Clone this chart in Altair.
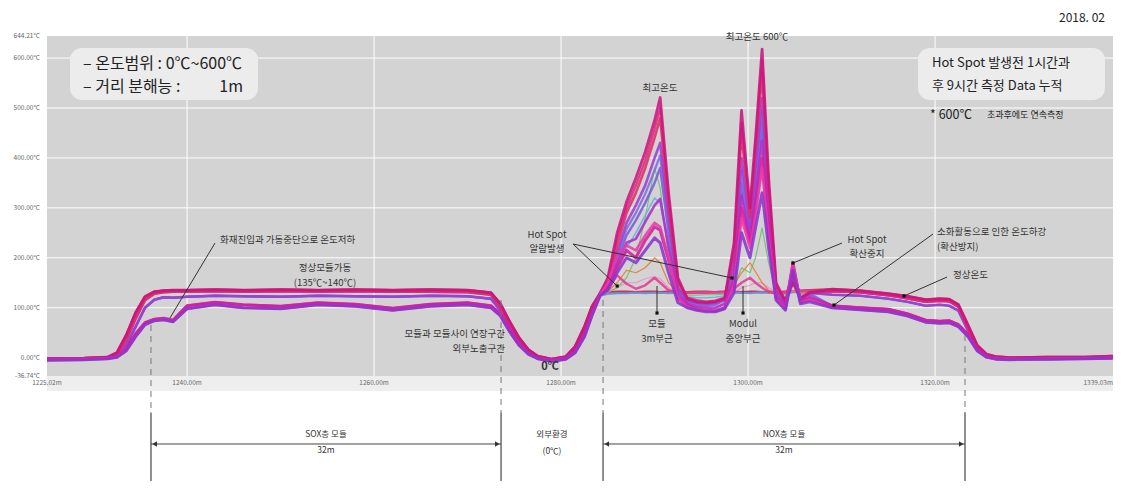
import altair as alt
import pandas as pd

# ---------------- scale / layout constants ----------------
X_MIN, X_MAX = 1225.02, 1339.03
Y_TOP, Y_PLOT_BOTTOM = 644.21, -36.74
PLOT_W = 1066
PLOT_PX_H = 340          # pixel height of the grey measurement panel
TOTAL_H = 445            # panel + annotation strip below it
Y_MIN = Y_TOP - TOTAL_H * (Y_TOP - Y_PLOT_BOTTOM) / PLOT_PX_H
FONT = "Noto Sans CJK KR"

# ---------------- data: distance grids (m) ----------------
sox_grid = [1225.02, 1229, 1231.5, 1232.5, 1233.5, 1234.5, 1235.5, 1236.5, 1237.5, 1238.5,
            1240, 1243, 1246, 1250, 1254, 1258, 1262, 1266, 1270, 1272.5,
            1273.5, 1274.5, 1275.5, 1276.5, 1277.5, 1279, 1280.5, 1281.5, 1282.5, 1283.3]
peak_grid = [1284.2, 1285, 1286, 1287, 1288, 1289, 1290, 1290.6, 1291.5, 1292.5,
             1293.5, 1294.5, 1295.5, 1296.5, 1297.5, 1298.5, 1299.3, 1300.2, 1300.8, 1301.5,
             1302.2, 1303, 1304, 1304.8, 1305.6, 1306.6]
tail_grid = [1309, 1312, 1315, 1317, 1319, 1320.5, 1321.5, 1322.5, 1323.5, 1324.5,
             1325.5, 1326.5, 1328, 1332, 1336, 1339]

# ---------------- data: temperature profiles (°C) ----------------
sox_top = [-2, -1, 1, 10, 45, 90, 122, 132, 134, 135,
           135, 136, 135, 136, 135, 136, 135, 136, 135, 130,
           108, 72, 40, 16, 3, -3, 2, 22, 62, 102]
sox_top2 = [-4, -2, 0, 6, 35, 78, 115, 128, 131, 132,
            132, 133, 132, 133, 132, 133, 132, 132, 131, 126,
            100, 65, 35, 13, 1, -5, 0, 18, 56, 96]
sox_mid = [-3, -3, -1, 4, 25, 62, 100, 116, 121, 120,
           122, 124, 123, 122, 124, 123, 122, 124, 123, 118,
           95, 60, 30, 10, -1, -6, -2, 14, 50, 90]
sox_low = [-3, -2, -1, 2, 18, 48, 70, 77, 79, 75,
           104, 111, 106, 103, 110, 107, 99, 107, 110, 104,
           88, 56, 28, 9, -1, -5, -1, 12, 46, 88]
sox_low2 = [-5, -4, -2, 1, 14, 42, 66, 74, 76, 72,
            98, 106, 100, 98, 106, 103, 95, 103, 106, 100,
            84, 52, 25, 7, -2, -7, -3, 10, 42, 84]

pk_flat = [128, 131, 132, 132, 131, 132, 132, 131, 132, 132,
           131, 132, 132, 131, 132, 132, 131, 132, 132, 131,
           132, 131, 132, 133, 134, 135]
pk_flat2 = [124, 128, 129, 129, 130, 129, 130, 130, 129, 130,
            129, 130, 130, 129, 129, 130, 130, 129, 130, 131,
            130, 130, 129, 131, 132, 132]
pk_alarm = [126, 138, 165, 148, 138, 145, 160, 150, 135, 130,
            130, 130, 130, 131, 132, 138, 150, 160, 150, 140,
            132, 128, 130, 150, 133, 134]
pk_max = [130, 160, 250, 312, 360, 412, 475, 521, 330, 160,
          118, 112, 110, 112, 118, 230, 495, 300, 440, 618,
          360, 150, 112, 150, 118, 130]
pk_a = [130, 155, 240, 300, 345, 395, 458, 500, 315, 155,
        119, 113, 111, 113, 119, 220, 470, 290, 425, 595,
        345, 145, 113, 155, 119, 131]
pk_hi2 = [130, 150, 225, 290, 330, 380, 440, 480, 300, 150,
          120, 115, 112, 114, 120, 210, 450, 280, 410, 570,
          330, 140, 115, 160, 120, 132]
pk_hi3 = [130, 145, 210, 270, 305, 345, 400, 430, 280, 140,
          115, 110, 108, 110, 118, 190, 400, 260, 380, 520,
          300, 135, 110, 170, 118, 130]
pk_b = [130, 143, 200, 258, 290, 328, 375, 405, 265, 138,
        113, 108, 106, 108, 116, 180, 375, 250, 360, 495,
        285, 132, 109, 175, 117, 129]
pk_mid = [130, 142, 195, 245, 275, 310, 350, 380, 250, 135,
          112, 106, 104, 106, 115, 170, 350, 240, 340, 470,
          270, 130, 108, 180, 116, 128]
pk_c = [129, 141, 188, 230, 238, 272, 305, 318, 222, 128,
        108, 102, 100, 100, 108, 160, 325, 235, 320, 435,
        260, 125, 104, 185, 114, 122]
pk_hump = [128, 140, 180, 215, 200, 235, 262, 255, 195, 120,
           105, 98, 95, 94, 100, 150, 300, 230, 300, 400,
           250, 120, 100, 190, 112, 118]
pk_d = [127, 150, 205, 225, 215, 245, 270, 262, 200, 118,
        102, 96, 94, 93, 99, 145, 280, 220, 285, 380,
        240, 118, 98, 188, 110, 116]
pk_low = [125, 135, 170, 200, 190, 215, 240, 230, 170, 110,
          100, 95, 92, 92, 98, 130, 250, 200, 260, 330,
          220, 115, 95, 175, 108, 112]
pk_green = [130, 132, 140, 160, 200, 280, 380, 340, 200, 130,
            125, 125, 126, 126, 127, 140, 180, 170, 200, 260,
            190, 130, 125, 150, 128, 130]
pk_orange = [130, 133, 150, 175, 170, 180, 200, 190, 150, 130,
             128, 128, 128, 129, 132, 145, 170, 190, 172, 150,
             135, 130, 128, 135, 130, 131]
pk_pink = [129, 131, 140, 150, 150, 158, 162, 158, 140, 130,
           129, 129, 129, 130, 130, 132, 140, 145, 150, 150,
           140, 132, 130, 134, 131, 132]
pk_cyan = [129, 138, 175, 220, 250, 285, 320, 310, 220, 135,
           122, 120, 120, 121, 124, 180, 330, 250, 350, 450,
           260, 130, 120, 170, 125, 130]

tl_top = [137, 134, 128, 123, 116, 118, 117, 106, 66, 25, 7, 2, 0, 1, 1, 3]
tl_top2 = [133, 131, 125, 119, 112, 114, 113, 102, 60, 22, 5, 0, -1, 0, 0, 2]
tl_mid = [126, 124, 118, 112, 104, 106, 104, 94, 55, 20, 4, -1, -2, -1, 0, 1]
tl_low = [104, 100, 97, 88, 75, 73, 74, 66, 47, 17, 3, -1, -2, -2, -1, 0]
tl_low2 = [100, 96, 92, 84, 71, 69, 70, 62, 43, 14, 1, -3, -4, -3, -2, -1]

# each measured trace = (SOX part, hot-spot part, NOX tail part)
traces = {
    "t01": (sox_top, pk_flat, tl_top),
    "t02": (sox_top2, pk_flat2, tl_top2),
    "t03": (sox_mid, pk_flat2, tl_mid),
    "t04": (sox_mid, pk_pink, tl_mid),
    "t05": (sox_mid, pk_green, tl_mid),
    "t06": (sox_mid, pk_orange, tl_mid),
    "t07": (sox_mid, pk_cyan, tl_mid),
    "t08": (sox_top2, pk_alarm, tl_top2),
    "t09": (sox_mid, pk_mid, tl_low),
    "t16": (sox_mid, pk_b, tl_mid),
    "t10": (sox_mid, pk_hi3, tl_mid),
    "t11": (sox_top2, pk_hi2, tl_top2),
    "t15": (sox_top, pk_a, tl_top2),
    "t12": (sox_top, pk_max, tl_top),
    "t17": (sox_low, pk_c, tl_low),
    "t13": (sox_low, pk_hump, tl_low),
    "t18": (sox_low2, pk_d, tl_low2),
    "t14": (sox_low2, pk_low, tl_low2),
}
trace_style = {
    "t01": ("#cc1f4a", 2.6), "t02": ("#2f8f92", 1.6), "t03": ("#6f95dc", 2.2),
    "t04": ("#f08cc4", 1.2), "t05": ("#6cbf6c", 1.2), "t06": ("#e8762c", 1.2),
    "t07": ("#62b4e6", 1.6), "t08": ("#e03c96", 2.4), "t09": ("#7a5ad8", 2.4),
    "t10": ("#9b3fd2", 2.6), "t11": ("#d8306a", 2.6), "t12": ("#c8167f", 2.8),
    "t13": ("#d81c9c", 3.0), "t14": ("#8a34cc", 3.0), "t15": ("#e0287a", 2.4),
    "t16": ("#7d6be0", 2.2), "t17": ("#b02cc8", 2.6), "t18": ("#e83aa8", 2.6),
}

# axis ticks
y_ticks = [644.21, 600, 500, 400, 300, 200, 100, 0, -36.74]
x_ticks = [1225.02, 1240, 1260, 1280, 1300, 1320]
x_last = 1339.03
grid_y = [100, 200, 300, 400, 500, 600]
grid_x = [1240, 1260, 1280, 1300, 1320]

# annotations (data coordinates)
note_c_m = [1254.75, 1254.75, 1290.58, 1300.96, 1278.5, 1278.5, 1290.26, 1290.26,
            1299.46, 1299.46, 1312.72, 1312.72]
note_c_t = [179.0, 150.0, 540.1, 642.2, 246.0, 217.0, 67.0, 38.0, 67.0, 38.0, 236.0, 207.0]
note_c_txt = ["정상모듈가동", "(135℃~140℃)", "최고온도", "최고온도 600℃", "Hot Spot", "알람발생",
              "모듈", "3m부근", "Modul", "중앙부근", "Hot Spot", "확산중지"]
note_l_m = [1243.52, 1320.21, 1320.21, 1321.92]
note_l_t = [235.6, 251.0, 222.0, 165.5]
note_l_txt = ["화재진입과 가동중단으로 온도저하", "소화활동으로 인한 온도하강", "(확산방지)", "정상온도"]
note_r_m = [1274.0, 1274.0]
note_r_t = [47.0, 17.0]
note_r_txt = ["모듈과 모듈사이 연장구간", "외부노출구간"]
zero_note = ("0℃", 1278.82, -18.7)

lead_m1 = [1242.99, 1281.28, 1281.28, 1290.26, 1299.46, 1310.05, 1319.78, 1321.28]
lead_t1 = [229.6, 227.6, 227.6, 143.5, 143.5, 229.6, 247.6, 161.5]
lead_m2 = [1238.17, 1286.0, 1298.28, 1290.26, 1299.46, 1304.8, 1309.19, 1316.68]
lead_t2 = [79.4, 143.5, 159.6, 89.4, 89.4, 189.5, 105.4, 123.5]

box_m1 = [1227.48, 1318.17]
box_m2 = [1247.59, 1338.17]
box_t1 = [620.2, 620.2]
box_t2 = [516.0, 516.0]
box_l_m = [1228.87, 1228.87, 1319.67, 1319.67]
box_l_t = [588.1, 542.1, 590.1, 544.1]
box_l_txt = ["– 온도범위 : 0℃~600℃", "– 거리 분해능 :", "Hot Spot 발생전 1시간과", "후 9시간 측정 Data 누적"]
box_l_size = [16, 16, 13, 13]
unit_note = ("1m", 1245.98, 542.1)
star_notes = [("* 600℃", 1319.46, 486.0, 12.5), ("초과후에도 연속측정", 1325.55, 486.0, 9)]
date_note = ("2018. 02", 1338.17, 680.3)

bnd_m = [1236.14, 1273.58, 1284.49, 1323.2]
bnd_top = [65.4, 115.5, 115.5, 45.4]
bnd_split = -110.0
span_m1 = [1236.14, 1284.49]
span_m2 = [1273.58, 1323.2]
span_t = -172.9
head_m = [1236.54, 1273.18, 1284.89, 1322.8]
head_shape = ["triangle-left", "triangle-right", "triangle-left", "triangle-right"]
low_m = [1254.86, 1254.86, 1279.03, 1279.03, 1303.84, 1303.84]
low_t = [-152.8, -184.9, -152.8, -186.9, -152.8, -184.9]
low_txt = ["SOX층 모듈", "32m", "외부환경", "(0℃)", "NOX층 모듈", "32m"]

# ---------------- build tables ----------------
rows = []
for name, (a, b, c) in traces.items():
    temps = a + b + c
    dists = sox_grid + peak_grid + tail_grid
    col, w = trace_style[name]
    for i, (d, t) in enumerate(zip(dists, temps)):
        rows.append({"trace": name, "m": d, "t": t, "i": i, "color": col, "w": w})
lines_df = pd.DataFrame(rows)

xs = alt.Scale(domain=[X_MIN, X_MAX], nice=False, zero=False)
ys = alt.Scale(domain=[Y_MIN, Y_TOP], nice=False, zero=False)


def X(f):
    return alt.X(f, type="quantitative", scale=xs, axis=None)


def Y(f):
    return alt.Y(f, type="quantitative", scale=ys, axis=None)


def texts(df, align, size, color="#333333", weight="normal", dx=0, dy=0, font=FONT):
    return alt.Chart(df).mark_text(align=align, baseline="middle", fontSize=size, color=color,
                                   font=font, fontWeight=weight, dx=dx, dy=dy).encode(
        x=X("m"), y=Y("t"), text="txt:N")


panel = alt.Chart(pd.DataFrame({"m": [X_MIN], "m2": [X_MAX], "t": [Y_PLOT_BOTTOM], "t2": [Y_TOP]})
                  ).mark_rect(color="#d3d3d3").encode(x=X("m"), x2="m2", y=Y("t"), y2="t2")
strip = alt.Chart(pd.DataFrame({"m": [X_MIN], "m2": [X_MAX], "t": [Y_PLOT_BOTTOM - 30], "t2": [Y_PLOT_BOTTOM]})
                  ).mark_rect(color="#eeeeee").encode(x=X("m"), x2="m2", y=Y("t"), y2="t2")
hgrid = alt.Chart(pd.DataFrame({"t": grid_y, "m": X_MIN, "m2": X_MAX})).mark_rule(
    color="white", strokeWidth=1).encode(x=X("m"), x2="m2", y=Y("t"))
vgrid = alt.Chart(pd.DataFrame({"m": grid_x, "t": Y_PLOT_BOTTOM, "t2": Y_TOP})).mark_rule(
    color="white", strokeWidth=1).encode(x=X("m"), y=Y("t"), y2="t2")

ylab = texts(pd.DataFrame({"m": X_MIN, "t": y_ticks, "txt": [f"{v:.2f}°C" for v in y_ticks]}),
             "right", 6.5, color="#666666", dx=-7)
xlab_df = pd.DataFrame({"m": x_ticks, "t": Y_PLOT_BOTTOM, "txt": [f"{v:.2f}m" for v in x_ticks]})
xlab = texts(xlab_df, "center", 6.5, color="#666666", dy=7)
xlab_last = texts(pd.DataFrame({"m": [x_last], "t": [Y_PLOT_BOTTOM], "txt": [f"{x_last:.2f}m"]}),
                  "right", 6.5, color="#666666", dy=7)

lines = alt.Chart(lines_df).mark_line(opacity=0.88, strokeJoin="round").encode(
    x=X("m"), y=Y("t"), detail="trace:N", order="i:Q",
    color=alt.Color("color:N", scale=None), size=alt.Size("w:Q", scale=None))

# bottom module boundaries
dash = alt.Chart(pd.DataFrame({"m": bnd_m, "t": bnd_top, "t2": bnd_split})).mark_rule(
    color="#777777", strokeWidth=1, strokeDash=[6, 5]).encode(x=X("m"), y=Y("t"), y2="t2")
solid = alt.Chart(pd.DataFrame({"m": bnd_m, "t": bnd_split, "t2": Y_MIN})).mark_rule(
    color="#444444", strokeWidth=1.2).encode(x=X("m"), y=Y("t"), y2="t2")
spans = alt.Chart(pd.DataFrame({"m": span_m1, "m2": span_m2, "t": span_t})).mark_rule(
    color="#444444", strokeWidth=1).encode(x=X("m"), x2="m2", y=Y("t"))
heads = alt.Chart(pd.DataFrame({"m": head_m, "t": span_t, "shape": head_shape})).mark_point(
    filled=True, size=28, color="#333333", opacity=1).encode(
    x=X("m"), y=Y("t"), shape=alt.Shape("shape:N", scale=None))
low_notes = texts(pd.DataFrame({"m": low_m, "t": low_t, "txt": low_txt}), "center", 8.5)

# leaders
leads = alt.Chart(pd.DataFrame({"m": lead_m1, "t": lead_t1, "m2": lead_m2, "t2": lead_t2})).mark_rule(
    color="#333333", strokeWidth=1).encode(x=X("m"), y=Y("t"), x2="m2", y2="t2")
dots = alt.Chart(pd.DataFrame({"m": lead_m2[1:], "t": lead_t2[1:]})).mark_square(
    size=10, color="#111111", opacity=1).encode(x=X("m"), y=Y("t"))

notes_c = texts(pd.DataFrame({"m": note_c_m, "t": note_c_t, "txt": note_c_txt}), "center", 9.5)
notes_l = texts(pd.DataFrame({"m": note_l_m, "t": note_l_t, "txt": note_l_txt}), "left", 9.5)
notes_r = texts(pd.DataFrame({"m": note_r_m, "t": note_r_t, "txt": note_r_txt}), "right", 9.5)
zero_t = texts(pd.DataFrame({"m": [zero_note[1]], "t": [zero_note[2]], "txt": [zero_note[0]]}),
               "center", 11, weight="bold")

boxes = alt.Chart(pd.DataFrame({"m": box_m1, "m2": box_m2, "t": box_t1, "t2": box_t2})).mark_rect(
    color="#ececec", cornerRadius=12).encode(x=X("m"), x2="m2", y=Y("t"), y2="t2")
box_df = pd.DataFrame({"m": box_l_m, "t": box_l_t, "txt": box_l_txt, "s": box_l_size})
box_txt = alt.Chart(box_df).mark_text(align="left", baseline="middle", font=FONT, color="#222222").encode(
    x=X("m"), y=Y("t"), text="txt:N", size=alt.Size("s:Q", scale=None))
unit_t = texts(pd.DataFrame({"m": [unit_note[1]], "t": [unit_note[2]], "txt": [unit_note[0]]}),
               "right", 16, color="#222222")
star_df = pd.DataFrame({"m": [s[1] for s in star_notes], "t": [s[2] for s in star_notes],
                        "txt": [s[0] for s in star_notes], "s": [s[3] for s in star_notes]})
star_t = alt.Chart(star_df).mark_text(align="left", baseline="middle", font=FONT, color="#222222").encode(
    x=X("m"), y=Y("t"), text="txt:N", size=alt.Size("s:Q", scale=None))
date_t = texts(pd.DataFrame({"m": [date_note[1]], "t": [date_note[2]], "txt": [date_note[0]]}),
               "right", 12, color="#222222")

chart = alt.layer(
    panel, strip, hgrid, vgrid, ylab, xlab, xlab_last, lines, dash, solid, spans, heads, low_notes,
    boxes, box_txt, unit_t, star_t, leads, dots, notes_c, notes_l, notes_r, zero_t, date_t
).properties(
    width=PLOT_W, height=TOTAL_H,
    autosize=alt.AutoSizeParams(type="none"),
    padding={"left": 39, "top": 28, "right": 1, "bottom": 0},
    background="white",
).configure_view(stroke=None)

chart.save("out.html", embed_options={"renderer": "svg", "actions": False})
